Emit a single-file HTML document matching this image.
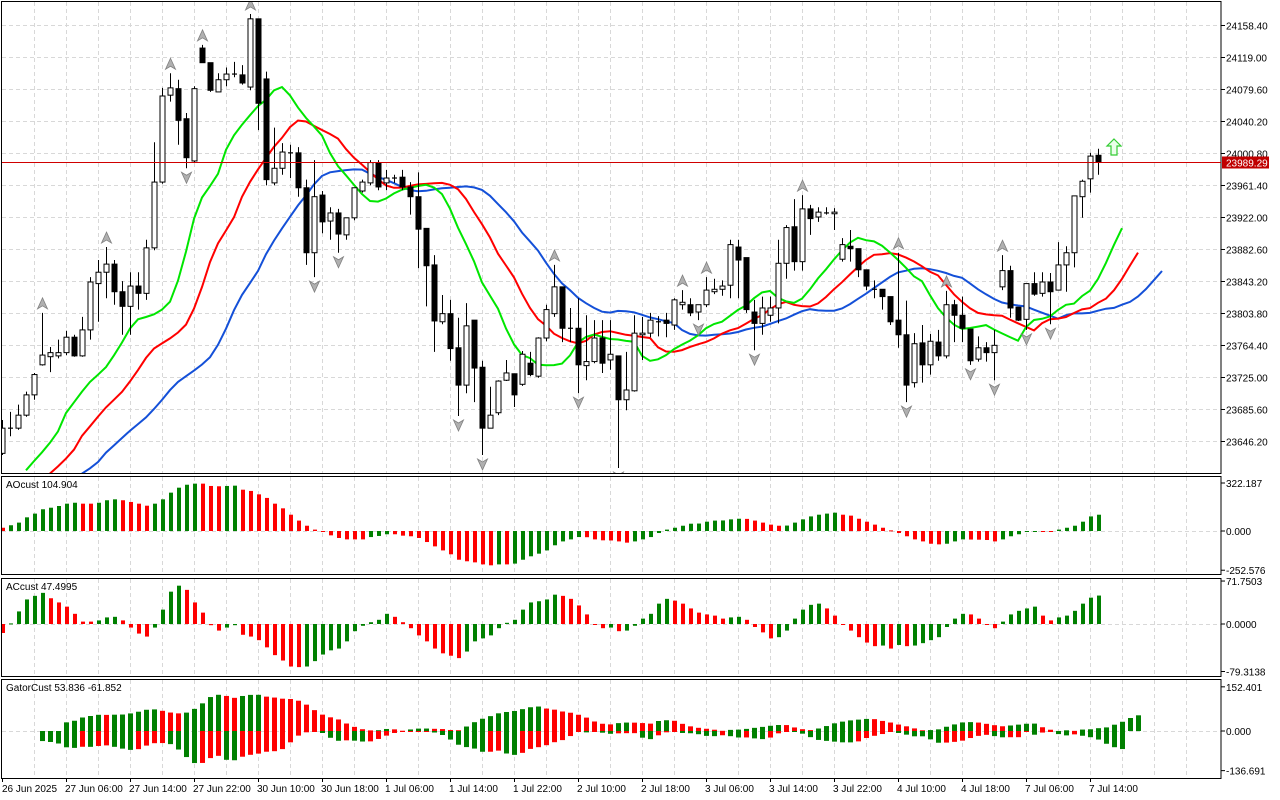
<!DOCTYPE html>
<html><head><meta charset="utf-8"><style>
html,body{margin:0;padding:0;background:#fff;}
svg{display:block;font-family:"Liberation Sans",sans-serif;}
</style></head><body>
<svg id="chart" width="1280" height="800" viewBox="0 0 1280 800" xmlns="http://www.w3.org/2000/svg"></svg>
<script>
const openP=[23631,23662,23662,23678,23703,23740,23750,23751,23755,23774,23751,23783,23840,23854,23864,23830,23812,23837,23828,23884,23965,24072,24080,24043,23991,24130,24112,24076,24091,24098,24097,24082,24166,24092,23964,23982,24001,24001,23958,23878,23949,23917,23927,23900,23921,23954,23964,23989,23964,23970,23971,23959,23947,23908,23863,23793,23803,23761,23715,23795,23737,23662,23681,23721,23729,23716,23742,23726,23773,23803,23836,23785,23785,23739,23744,23773,23746,23751,23697,23708,23777,23779,23793,23795,23789,23814,23814,23805,23814,23830,23833,23838,23885,23872,23805,23791,23801,23810,23865,23910,23867,23932,23922,23927,23926,23870,23886,23883,23857,23833,23833,23824,23795,23777,23718,23767,23740,23768,23751,23814,23801,23784,23747,23761,23755,23836,23856,23811,23796,23840,23828,23842,23832,23863,23878,23947,23969,23998];
const highP=[23672,23682,23691,23707,23730,23804,23762,23771,23782,23777,23799,23848,23869,23885,23869,23843,23854,23854,23894,24014,24081,24099,24091,24050,24083,24134,24112,24099,24106,24113,24109,24172,24166,24101,24032,24013,24011,24008,23968,23992,23954,23934,23932,23921,23958,23968,23992,23992,23980,23974,23980,23965,23977,23908,23875,23826,23820,23798,23816,23795,23745,23713,23721,23746,23729,23757,23756,23774,23814,23863,23836,23810,23822,23801,23795,23795,23795,23751,23756,23801,23799,23804,23800,23804,23822,23832,23822,23814,23848,23846,23844,23894,23894,23872,23820,23824,23824,23894,23912,23944,23949,23937,23934,23934,23933,23896,23906,23883,23857,23844,23833,23824,23878,23819,23779,23789,23778,23783,23831,23820,23824,23784,23775,23768,23783,23875,23862,23811,23840,23854,23854,23853,23891,23886,23948,23968,24001,24006];
const lowP=[23629,23652,23660,23676,23697,23739,23731,23748,23752,23750,23750,23771,23793,23822,23814,23777,23777,23808,23820,23881,23963,24064,24011,23982,23989,24112,24076,24076,24083,24094,24085,24078,24029,23961,23961,23974,23970,23947,23863,23848,23902,23894,23878,23894,23918,23952,23961,23955,23955,23964,23955,23925,23859,23812,23756,23790,23745,23677,23705,23694,23629,23662,23678,23720,23688,23714,23726,23724,23769,23799,23768,23768,23705,23721,23742,23730,23734,23613,23684,23707,23746,23774,23775,23774,23783,23808,23800,23795,23811,23827,23825,23822,23822,23804,23758,23777,23793,23791,23846,23856,23856,23900,23916,23925,23906,23867,23867,23848,23832,23822,23808,23789,23761,23694,23712,23718,23728,23745,23748,23768,23768,23740,23744,23744,23721,23832,23798,23794,23783,23825,23824,23790,23832,23830,23860,23921,23952,23974];
const closeP=[23662,23662,23678,23703,23728,23752,23755,23755,23774,23751,23783,23842,23854,23864,23830,23812,23837,23828,23884,23965,24071,24081,24041,23995,24080,24112,24078,24091,24098,24098,24087,24166,24062,23968,23982,24002,24001,23958,23878,23947,23916,23927,23901,23921,23958,23965,23989,23959,23970,23970,23959,23947,23907,23862,23794,23803,23760,23715,23788,23736,23662,23678,23720,23730,23703,23753,23728,23773,23808,23836,23785,23785,23740,23744,23773,23742,23753,23697,23709,23779,23779,23795,23793,23791,23820,23817,23804,23814,23832,23833,23837,23888,23869,23808,23791,23810,23810,23865,23909,23867,23932,23920,23928,23927,23928,23888,23883,23857,23837,23833,23824,23793,23777,23715,23766,23740,23769,23751,23814,23801,23785,23745,23761,23755,23764,23856,23810,23795,23840,23827,23842,23830,23863,23878,23948,23966,23997,23989.29];
const aoValues=[21,37,54,88,112,140,150,161,176,182,176,176,182,198,204,198,187,176,163,176,204,247,279,298,305,305,290,288,290,292,266,258,236,213,176,146,105,67,34,9,-4,-28,-45,-54,-54,-54,-39,-32,-21,-21,-30,-34,-45,-71,-99,-125,-150,-185,-195,-202,-215,-221,-215,-215,-210,-185,-163,-146,-125,-92,
-67,-54,-39,-40,-54,-60,-61,-67,-75,-67,-54,-39,-13,9,21,34,47,48,60,67,68,75,79,78,67,54,41,34,35,54,75,94,105,112,118,105,99,79,60,41,21,4,-13,-34,-54,-67,-82,-86,-82,-67,-54,-55,-56,-58,-67,-54,-34,-21,-6,0,-2,-3,9,21,34,60,94,104.904];
const acValues=[-15,1,21,41,47,52,43,36,29,17,4,4,6,11,12,6,-6,-16,-21,-6,24,54,64,57,36,19,-2,-11,-6,-2,-18,-21,-27,-39,-52,-61,-71,-72,-71,-62,-51,-44,-41,-29,-12,-3,3,7,17,12,3,-7,-19,-29,-41,-49,-53,-57,-46,-29,-24,-19,-7,2,7,24,36,38,41,49,
47,42,31,16,-1,-7,-6,-12,-11,-3,9,17,34,42,39,34,26,19,16,14,9,11,12,7,-5,-14,-24,-22,-11,9,24,32,34,26,14,0,-11,-22,-31,-37,-36,-41,-35,-37,-36,-32,-27,-22,-5,9,17,16,9,0,-7,4,16,22,26,29,14,6,11,14,22,34,44,47.4995];
const priceTicks=[24158.40,24119.00,24079.60,24040.20,24000.80,23961.40,23922.00,23882.60,23843.20,23803.80,23764.40,23725.00,23685.60,23646.20];
const timeLabels=["26 Jun 2025","27 Jun 06:00","27 Jun 14:00","27 Jun 22:00","30 Jun 10:00","30 Jun 18:00","1 Jul 06:00","1 Jul 14:00","1 Jul 22:00","2 Jul 10:00","2 Jul 18:00","3 Jul 06:00","3 Jul 14:00","3 Jul 22:00","4 Jul 10:00","4 Jul 18:00","7 Jul 06:00","7 Jul 14:00"];
const alligatorSeeds=[23590,23590,23600];
const currentPrice=23989.29;

const svg=document.getElementById('chart');
const NS='http://www.w3.org/2000/svg';
function mk(tag,attrs,parent){const e=document.createElementNS(NS,tag);for(const k in attrs)e.setAttribute(k,attrs[k]);(parent||svg).appendChild(e);return e;}
function txt(x,y,s,attrs){const t=mk('text',Object.assign({x:x,y:y,'font-size':10,fill:'#000'},attrs||{}));t.textContent=s;return t;}
const xOf=i=>2+8*i;
const yMain=p=>25+(24158.4-p)*32/39.4;
const yAO=v=>531-v/6.44;
const yAC=v=>624-v/1.67;
const yG=v=>731-v/3.45;
const RIGHT=1221;

// clip paths
const defs=mk('defs',{});
const panels=[['main',2,473],['ao',477,574],['ac',579,676],['gator',680,778]];
panels.forEach(p=>{const c=mk('clipPath',{id:'clip-'+p[0]},defs);mk('rect',{x:2,y:p[1],width:RIGHT-2,height:p[2]-p[1]},c);});

// grid
const grid=mk('g',{stroke:'#d8d8d8','stroke-dasharray':'4,3','stroke-width':1});


for(let k=1;k<38;k++){const x=2+32*k+0.5;if(x>RIGHT)break;panels.forEach(p=>mk('line',{x1:x,y1:p[1],x2:x,y2:p[2]},grid));}
priceTicks.forEach(p=>{const y=Math.round(yMain(p))+0.5;mk('line',{x1:2,y1:y,x2:RIGHT,y2:y},grid);});
[531,624,731].forEach(y=>mk('line',{x1:2,y1:y+0.5,x2:RIGHT,y2:y+0.5},grid));

// panel borders
panels.forEach(p=>{const r=mk('rect',{x:1.5,y:p[1]-0.5,width:RIGHT-1.5,height:p[2]-p[1]+1,fill:'none',stroke:'#000','stroke-width':1});

});

// alligator
const med=highP.map((h,i)=>(h+lowP[i])/2);
function smma(n,seed){const out=[];let v=seed;for(let i=0;i<med.length;i++){v=(v*(n-1)+med[i])/n;out.push(v);}return out;}
const jaw=smma(13,alligatorSeeds[0]),teeth=smma(8,alligatorSeeds[1]),lips=smma(5,alligatorSeeds[2]);
const shift={jaw:8,teeth:5,lips:3};
function series(arr,sh){return arr.map((v,i)=>[xOf(i+sh),v]);}
const jawS=series(jaw,8),teethS=series(teeth,5),lipsS=series(lips,3);
const mainG=mk('g',{'clip-path':'url(#clip-main)'});
[[jawS,'#1450d8','alligator-jaw'],[teethS,'#ff0000','alligator-teeth'],[lipsS,'#00e600','alligator-lips']].forEach(s=>{
 const pl=mk('polyline',{points:s[0].map(q=>q[0]+','+yMain(q[1]).toFixed(1)).join(' '),fill:'none',stroke:s[1],'stroke-width':2},mainG);
 
 
});

// current price line
const cy=Math.round(yMain(currentPrice))+0.5;
const pline=mk('line',{x1:2,y1:cy,x2:RIGHT,y2:cy,stroke:'#d00000','stroke-width':1});



// candles
for(let i=0;i<openP.length;i++){
 const x=xOf(i),o=openP[i],c=closeP[i];
 const g=mk('g',{},mainG);
 
 
 mk('line',{x1:x+0.5,y1:yMain(highP[i]),x2:x+0.5,y2:yMain(lowP[i]),stroke:'#000','stroke-width':1},g);
 const top=yMain(Math.max(o,c)),bot=yMain(Math.min(o,c));
 const bull=c>=o;
 if(Math.abs(bot-top)<1){mk('line',{x1:x-2,y1:top,x2:x+3,y2:top,stroke:'#000','stroke-width':1.2},g);}
 else mk('rect',{x:x-2,y:top,width:5,height:bot-top,fill:bull?'#fff':'#000',stroke:'#000','stroke-width':1},g);
}
// fractals
for(let i=2;i<highP.length-2;i++){
 const x=xOf(i)+0.5;
 if(highP[i]>highP[i-1]&&highP[i]>highP[i-2]&&highP[i]>highP[i+1]&&highP[i]>highP[i+2]){
  const y=yMain(highP[i])-9;
  const a=mk('polygon',{points:`${x},${y-6} ${x+5},${y+5} ${x},${y+2} ${x-5},${y+5}`,fill:'#b0b0b0',stroke:'#808080','stroke-width':0.8},mainG);
  
  
 }
 if(lowP[i]<lowP[i-1]&&lowP[i]<lowP[i-2]&&lowP[i]<lowP[i+1]&&lowP[i]<lowP[i+2]){
  const y=yMain(lowP[i])+9;
  const a=mk('polygon',{points:`${x},${y+6} ${x+5},${y-5} ${x},${y-2} ${x-5},${y-5}`,fill:'#b0b0b0',stroke:'#808080','stroke-width':0.8},mainG);
  
  
 }
}
// signal arrow
const sa=mk('polygon',{points:'1114,139 1121,146 1117,146 1117,155 1111,155 1111,146 1107,146',fill:'#eaffea',stroke:'#33cc33','stroke-width':1.2});



// histograms
function hist(vals,yf,clip,name,w){
 const g=mk('g',{'clip-path':'url(#clip-'+clip+')'});
 
 
 const z=yf(0);
 vals.forEach((v,i)=>{
  const up=i===0?false:v>vals[i-1];
  const y=yf(v);
  const b=mk('rect',{x:xOf(i)-1,y:Math.min(y,z),width:w,height:Math.max(1,Math.abs(y-z)),fill:up?'#008000':'#ff0000'},g);
  
  
 });
}
hist(aoValues,yAO,'ao','ao-histogram',4);
hist(acValues,yAC,'ac','ac-histogram',4);
// gator
const gUp=[],gDn=[];
for(let j=0;j<openP.length+5;j++){
 const ji=j-8,ti=j-5,li=j-3;
 if(ji>=0&&ti>=0&&ti<teeth.length)gUp[j]=Math.abs(jaw[ji]-teeth[ti]);
 if(ti>=0&&ti<teeth.length&&li>=0&&li<lips.length)gDn[j]=Math.abs(teeth[ti]-lips[li]);
}
const gg=mk('g',{'clip-path':'url(#clip-gator)'});


for(let j=0;j<gUp.length;j++){
 if(gUp[j]!==undefined){const prev=gUp[j-1];const y=yG(gUp[j]);
  const b=mk('rect',{x:xOf(j)-2,y:y,width:5,height:Math.max(1,731-y),fill:(prev===undefined||gUp[j]>=prev)?'#008000':'#ff0000'},gg);
  
  }
 if(gDn[j]!==undefined){const prev=gDn[j-1];const y=yG(-gDn[j]);
  const b=mk('rect',{x:xOf(j)-2,y:731,width:5,height:Math.max(1,y-731),fill:(prev===undefined||gDn[j]>=prev)?'#008000':'#ff0000'},gg);
  
  }
}

// price axis
const ax=mk('g',{});


priceTicks.forEach(p=>{const y=Math.round(yMain(p))+0.5;mk('line',{x1:RIGHT,y1:y,x2:RIGHT+4,y2:y,stroke:'#000'},ax);
 const t=txt(1226,y+4,p.toFixed(2),{},ax);ax.appendChild(t);
 
 });
const box=mk('rect',{x:1222,y:cy-6,width:47,height:12,fill:'#c00000'});


const cpl=txt(1226,cy+4,currentPrice.toFixed(2),{fill:'#fff'});



// sub-panel axes
[[yAO,['322.187','0.000','-252.576'],[322.187,0,-252.576]],[yAC,['71.7503','0.0000','-79.3138'],[71.7503,0,-79.3138]],[yG,['152.401','0.000','-136.691'],[152.401,0,-136.691]]].forEach(a=>{
 a[2].forEach((v,k)=>{let y=a[0](v);if(k===0)y=Math.max(y,a[0](0)-48);
  mk('line',{x1:RIGHT,y1:y,x2:RIGHT+4,y2:y,stroke:'#000'});
  const t=txt(1226,y+4,a[1][k]);
  
  });
});
[['AOcust 104.904',488,'ao-title'],['ACcust 47.4995',590,'ac-title'],['GatorCust 53.836 -61.852',691,'gator-title']].forEach(l=>{
 const t=txt(6,l[1],l[0]);
 
 });

// time axis
timeLabels.forEach((s,k)=>{const x=2+64*k;
 mk('line',{x1:x+0.5,y1:778,x2:x+0.5,y2:782,stroke:'#000'});
 const t=txt(x+(k===0?0:-1),792,s);
 
 });
</script>
</body></html>
